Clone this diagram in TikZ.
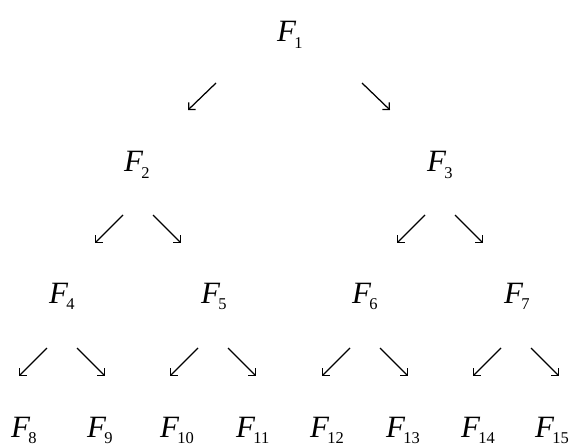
\documentclass[tikz,border=0pt]{standalone}
\usepackage{fontspec}
\setmainfont{Liberation Serif}
\usetikzlibrary{arrows.meta}
\newcommand\Fsub[1]{\textit{F}\kern-2pt\raisebox{-6.5pt}{\fontsize{16.5}{17}\selectfont #1}}
\begin{document}
\begin{tikzpicture}[x=1pt,y=-1pt,
  lab/.style={anchor=base west,inner sep=0pt,font=\fontsize{31}{32}\selectfont},
  arr/.style={line width=1.25pt,-{Straight Barb[angle=90:7pt,line width=1.25pt]}}]
\useasboundingbox (0,0) rectangle (570,446);
% labels
\node[lab] (f1) at (277,42) {\Fsub{1}};
\node[lab] (f2) at (124,172) {\Fsub{2}};
\node[lab] (f3) at (427,172) {\Fsub{3}};
\node[lab] (f4) at (49,303) {\Fsub{4}};
\node[lab] (f5) at (201,303) {\Fsub{5}};
\node[lab] (f6) at (352,303) {\Fsub{6}};
\node[lab] (f7) at (504,303) {\Fsub{7}};
\node[lab] (f8) at (11,437) {\Fsub{8}};
\node[lab] (f9) at (87,437) {\Fsub{9}};
\node[lab] (f10) at (160,437) {\Fsub{10}};
\node[lab] (f11) at (236,437) {\Fsub{11}};
\node[lab] (f12) at (310,437) {\Fsub{12}};
\node[lab] (f13) at (386,437) {\Fsub{13}};
\node[lab] (f14) at (461,437) {\Fsub{14}};
\node[lab] (f15) at (535,437) {\Fsub{15}};
% arrow end points
\coordinate (a1s) at (216,83);  \coordinate (a1e) at (188,110);
\coordinate (a2s) at (362,83);  \coordinate (a2e) at (390,110);
\coordinate (b1s) at (123,215); \coordinate (b1e) at (95,243);
\coordinate (b2s) at (153,215); \coordinate (b2e) at (181,243);
\coordinate (b3s) at (425,215); \coordinate (b3e) at (397,243);
\coordinate (b4s) at (455,215); \coordinate (b4e) at (483,243);
\coordinate (c1s) at (47,348);  \coordinate (c1e) at (19,376);
\coordinate (c2s) at (77,348);  \coordinate (c2e) at (105,376);
\coordinate (c3s) at (198,348); \coordinate (c3e) at (170,376);
\coordinate (c4s) at (228,348); \coordinate (c4e) at (256,376);
\coordinate (c5s) at (350,348); \coordinate (c5e) at (322,376);
\coordinate (c6s) at (380,348); \coordinate (c6e) at (408,376);
\coordinate (c7s) at (501,348); \coordinate (c7e) at (473,376);
\coordinate (c8s) at (531,348); \coordinate (c8e) at (559,376);
\foreach \p in {a1,a2,b1,b2,b3,b4,c1,c2,c3,c4,c5,c6,c7,c8}
  \draw[arr] (\p s) -- (\p e);
\end{tikzpicture}
\end{document}
